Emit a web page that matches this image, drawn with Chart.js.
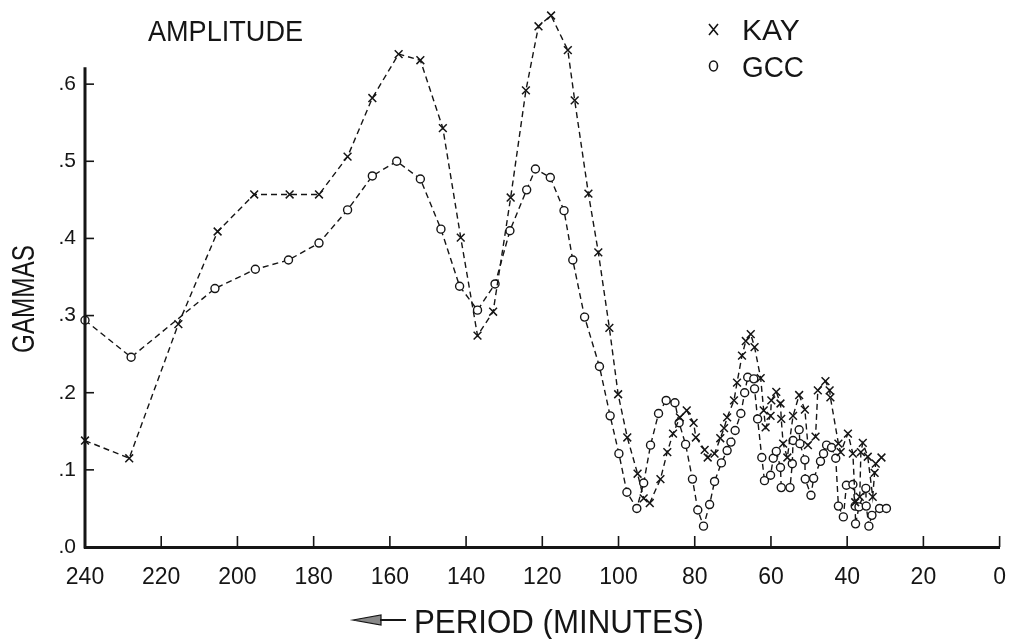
<!DOCTYPE html>
<html>
<head>
<meta charset="utf-8">
<script src="https://cdn.jsdelivr.net/npm/chart.js@4.4.1/dist/chart.umd.min.js"></script>
<style>
  html, body { margin: 0; padding: 0; background: #fff; }
  #wrap { width: 1023px; height: 639px; }
</style>
</head>
<body>
<div id="wrap"><canvas id="ampChart" width="1023" height="639"></canvas></div>
<script>
// values: period in minutes, amplitude in gammas
const seriesNames = ['KAY', 'GCC'];

const kayPeriod = [240, 228.4, 215.5, 205.2, 195.6, 186.3, 178.6, 171.1, 164.6, 157.7,
  152.0, 146.1, 141.4, 137.0, 132.9, 128.3, 124.3, 121.0, 117.7, 113.3,
  111.5, 107.9, 105.3, 102.4, 100.1, 97.7, 95.0, 93.4, 91.8, 89.0,
  87.2, 85.7, 83.9, 82.1, 80.3, 79.7, 77.4, 76.6, 74.8, 73.3,
  72.3, 71.5, 69.7, 68.9, 67.6, 66.6, 65.3, 64.3, 62.7, 61.9,
  61.4, 60.1, 59.9, 58.6, 57.5, 57.3, 56.8, 55.7, 54.2, 52.6,
  51.1, 50.3, 48.3, 47.7, 45.7, 44.6, 44.4, 42.3, 41.7, 39.8,
  38.5, 37.9, 36.7, 36.4, 35.9, 34.6, 33.3, 32.8, 32.5, 31.0];
const kayAmp = [0.138, 0.115, 0.289, 0.409, 0.457, 0.457, 0.457, 0.506, 0.582, 0.639,
  0.631, 0.543, 0.401, 0.274, 0.305, 0.453, 0.592, 0.675, 0.689, 0.644,
  0.579, 0.458, 0.382, 0.284, 0.198, 0.142, 0.095, 0.063, 0.057, 0.088,
  0.123, 0.147, 0.168, 0.177, 0.161, 0.142, 0.126, 0.116, 0.121, 0.141,
  0.154, 0.168, 0.190, 0.213, 0.248, 0.267, 0.276, 0.259, 0.219, 0.177,
  0.155, 0.170, 0.190, 0.201, 0.186, 0.166, 0.134, 0.116, 0.170, 0.197,
  0.178, 0.132, 0.143, 0.203, 0.215, 0.203, 0.194, 0.134, 0.123, 0.147,
  0.121, 0.058, 0.065, 0.123, 0.135, 0.117, 0.065, 0.096, 0.108, 0.116];

const gccPeriod = [240, 227.9, 205.9, 195.3, 186.6, 178.6, 171.1, 164.6, 158.2, 152.0,
  146.6, 141.7, 137.0, 132.4, 128.5, 124.1, 121.8, 117.9, 114.3, 112.0,
  108.9, 105.0, 102.2, 99.9, 97.8, 95.2, 93.4, 91.6, 89.5, 87.5,
  85.2, 84.1, 82.4, 80.6, 79.2, 77.7, 76.1, 74.8, 73.0, 71.5,
  70.5, 69.4, 67.9, 66.9, 66.1, 64.5, 64.3, 63.5, 62.4, 61.7,
  60.1, 59.4, 58.6, 57.5, 57.3, 55.0, 54.4, 54.2, 52.6, 52.4,
  51.1, 51.0, 49.5, 48.8, 47.0, 46.2, 45.4, 44.1, 43.0, 42.3,
  41.0, 40.2, 38.5, 37.9, 37.8, 36.9, 35.1, 35.0, 34.3, 33.5,
  31.5, 29.7];
const gccAmp = [0.294, 0.246, 0.335, 0.360, 0.372, 0.394, 0.437, 0.481, 0.500, 0.477,
  0.412, 0.338, 0.307, 0.341, 0.410, 0.463, 0.490, 0.479, 0.436, 0.372,
  0.298, 0.234, 0.170, 0.121, 0.071, 0.050, 0.083, 0.132, 0.173, 0.190,
  0.187, 0.161, 0.133, 0.088, 0.048, 0.027, 0.055, 0.085, 0.109, 0.125,
  0.136, 0.151, 0.173, 0.200, 0.220, 0.218, 0.205, 0.166, 0.116, 0.086,
  0.093, 0.115, 0.124, 0.103, 0.077, 0.077, 0.108, 0.138, 0.152, 0.134,
  0.113, 0.088, 0.067, 0.089, 0.111, 0.121, 0.132, 0.129, 0.115, 0.053,
  0.039, 0.080, 0.081, 0.053, 0.030, 0.052, 0.076, 0.053, 0.027, 0.041,
  0.050, 0.050];

const xRange = [0, 240];
const xStep = 20;
const yRange = [0, 0.70];
const yAxisTop = 0.622; // drawn axis line stops here, the peaks go above it
const yTickValues = [0, 0.1, 0.2, 0.3, 0.4, 0.5, 0.6];

const ink = '#151515';
const fontFam = '"Liberation Sans", Arial, sans-serif';

function toPoints(xs, ys) {
  return xs.map((x, i) => ({ x: x, y: ys[i] }));
}

// hand-lettered extras: y axis line, title, axis titles, legend, inward ticks
const decorations = {
  id: 'decorations',
  afterDraw(chart) {
    const ctx = chart.ctx;
    const area = chart.chartArea;
    const xs = chart.scales.x;
    const ys = chart.scales.y;
    ctx.save();
    ctx.strokeStyle = ink;
    ctx.fillStyle = ink;

    // y axis line, shorter than the plot area
    ctx.lineWidth = 3;
    ctx.beginPath();
    ctx.moveTo(area.left, ys.getPixelForValue(0) + 1.5);
    ctx.lineTo(area.left, ys.getPixelForValue(yAxisTop));
    ctx.stroke();

    // tick marks point into the plot
    ctx.lineWidth = 1.6;
    xs.ticks.forEach(t => {
      if (t.value === xRange[1]) return;
      const px = xs.getPixelForValue(t.value);
      ctx.beginPath();
      ctx.moveTo(px, area.bottom);
      ctx.lineTo(px, area.bottom - 11);
      ctx.stroke();
    });
    ys.ticks.forEach(t => {
      if (t.value === 0) return;
      const py = ys.getPixelForValue(t.value);
      ctx.beginPath();
      ctx.moveTo(area.left, py);
      ctx.lineTo(area.left + 9, py);
      ctx.stroke();
    });

    ctx.textBaseline = 'alphabetic';
    ctx.textAlign = 'left';
    ctx.font = '30px ' + fontFam;
    ctx.fillText('AMPLITUDE', 148, 41, 155);

    // y axis title
    ctx.save();
    ctx.translate(34, 299);
    ctx.rotate(-Math.PI / 2);
    ctx.textAlign = 'center';
    ctx.font = '32px ' + fontFam;
    ctx.fillText('GAMMAS', 0, 0, 108);
    ctx.restore();

    // x axis title with arrow
    ctx.font = '33px ' + fontFam;
    ctx.fillText('PERIOD (MINUTES)', 414, 633, 290);
    ctx.beginPath();
    ctx.moveTo(353, 620);
    ctx.lineTo(381, 615);
    ctx.lineTo(381, 625);
    ctx.closePath();
    ctx.fillStyle = '#888';
    ctx.fill();
    ctx.lineWidth = 1.2;
    ctx.stroke();
    ctx.lineWidth = 2;
    ctx.beginPath();
    ctx.moveTo(380, 620);
    ctx.lineTo(406, 620);
    ctx.stroke();
    ctx.fillStyle = ink;

    // legend
    ctx.font = '30px ' + fontFam;
    ctx.lineWidth = 1.6;
    ctx.beginPath();
    ctx.moveTo(709, 24); ctx.lineTo(718, 35);
    ctx.moveTo(718, 24); ctx.lineTo(709, 35);
    ctx.stroke();
    ctx.fillText(seriesNames[0], 742, 40, 60);
    ctx.beginPath();
    ctx.ellipse(713.5, 66, 4, 5, 0, 0, Math.PI * 2);
    ctx.stroke();
    ctx.fillText(seriesNames[1], 742, 77, 62);
    ctx.restore();
  }
};

const chart = new Chart(document.getElementById('ampChart'), {
  type: 'line',
  data: {
    datasets: [
      {
        label: seriesNames[0],
        data: toPoints(kayPeriod, kayAmp),
        borderColor: ink,
        borderWidth: 1.4,
        borderDash: [6, 4],
        pointStyle: 'crossRot',
        pointRadius: 5.5,
        pointBorderWidth: 1.5,
        pointBorderColor: ink,
        tension: 0,
        clip: false
      },
      {
        label: seriesNames[1],
        data: toPoints(gccPeriod, gccAmp),
        borderColor: ink,
        borderWidth: 1.4,
        borderDash: [6, 4],
        pointStyle: 'circle',
        pointRadius: 4,
        pointBorderWidth: 1.4,
        pointBorderColor: ink,
        pointBackgroundColor: '#fff',
        tension: 0,
        clip: false
      }
    ]
  },
  options: {
    responsive: false,
    animation: false,
    devicePixelRatio: 1,
    layout: { padding: { top: 4.5, right: 8, left: 0, bottom: 0 } },
    plugins: {
      legend: { display: false },
      tooltip: { enabled: false }
    },
    scales: {
      x: {
        type: 'linear',
        reverse: true,
        min: xRange[0],
        max: xRange[1],
        grid: { display: false, drawTicks: false },
        border: { display: true, color: ink, width: 3 },
        ticks: {
          stepSize: xStep,
          autoSkip: false,
          maxRotation: 0,
          padding: 17,
          color: ink,
          font: { family: fontFam, size: 23 }
        },
        afterFit: scale => { scale.height = 92; }
      },
      y: {
        min: yRange[0],
        max: yRange[1],
        grid: { display: false, drawTicks: false },
        border: { display: false },
        ticks: {
          padding: 9,
          color: ink,
          font: { family: fontFam, size: 21 },
          callback: v => v.toFixed(1).replace('0.', '.')
        },
        afterBuildTicks: scale => {
          scale.ticks = yTickValues.map(v => ({ value: v }));
        },
        afterFit: scale => {
          scale.width = 85;
          scale.paddingTop = 0;
          scale.paddingBottom = 0;
        }
      }
    }
  },
  plugins: [decorations]
});
</script>
</body>
</html>
